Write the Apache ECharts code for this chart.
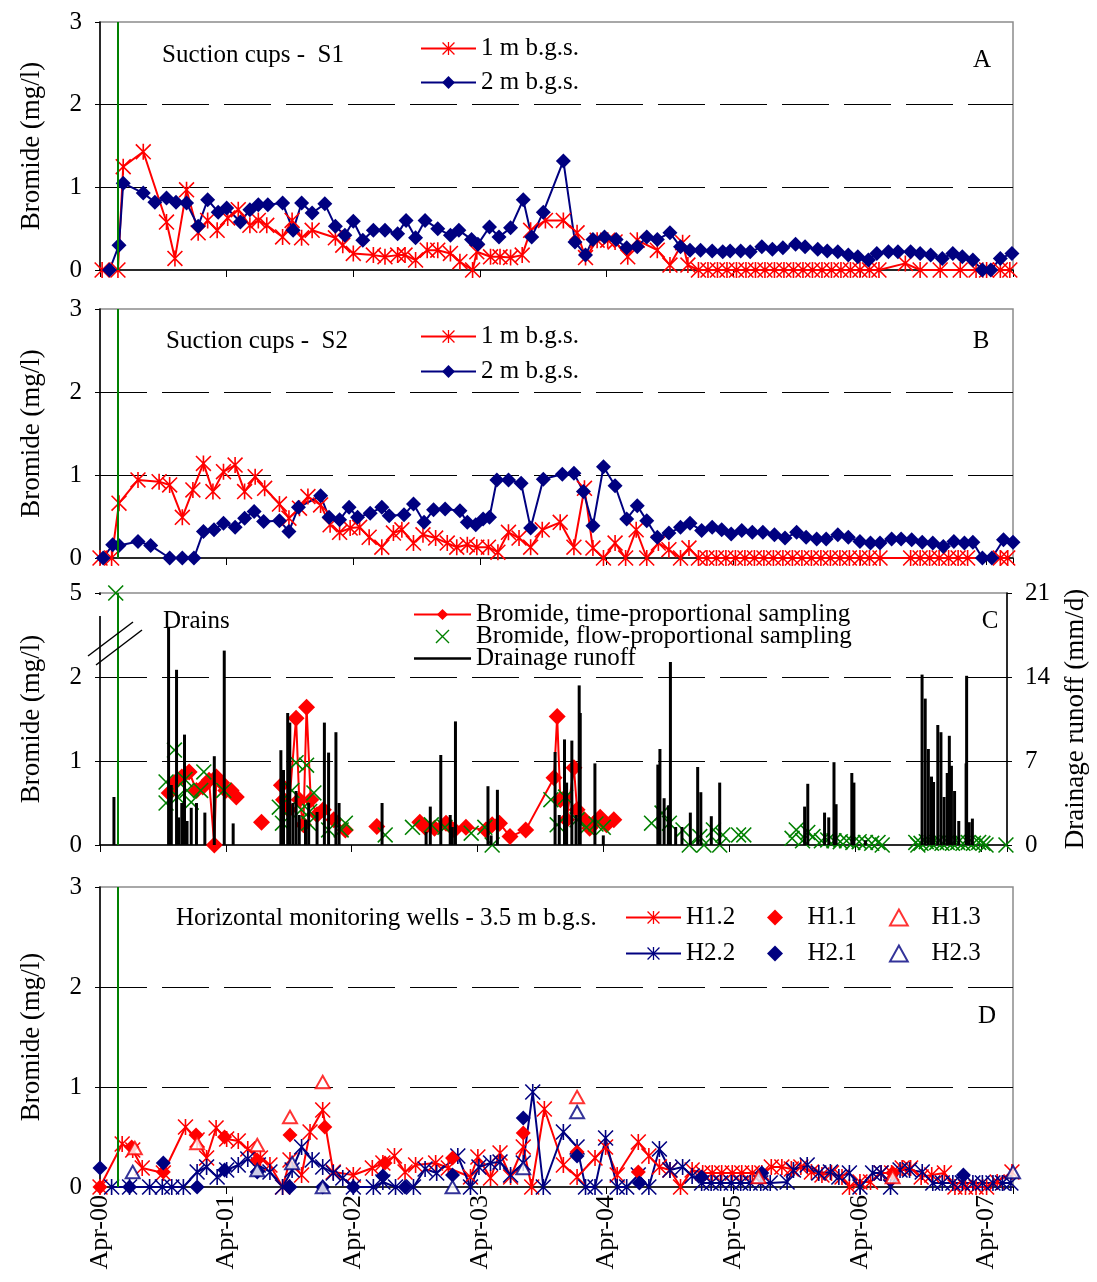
<!DOCTYPE html>
<html>
<head>
<meta charset="utf-8">
<script src="https://cdn.jsdelivr.net/npm/echarts@6/dist/echarts.min.js"></script>
<style>
  html, body { margin: 0; padding: 0; background: #fff; }
  #chart { width: 1097px; height: 1282px; }
</style>
</head>
<body>
<div id="chart"></div>
<script>
// x values are months since April 2000
var applicationMonth = 1.7;

// panel A - suction cups S1
var s1_1m = [[0.2,0],[1.7,0],[2.2,1.25],[4.1,1.43],[6.3,0.58],[7.1,0.14],[8.2,0.97],[9.3,0.45],[10.2,0.6],[11.1,0.48],[12.1,0.63],[13.1,0.73],[14.2,0.54],[15.0,0.6],[15.8,0.54],[17.3,0.4],[18.2,0.6],[19.1,0.39],[20.1,0.48],[22.3,0.39],[23.0,0.3],[24.0,0.2],[25.9,0.18],[27.0,0.16],[28.2,0.18],[28.9,0.18],[29.9,0.12],[31.0,0.24],[32.0,0.24],[33.2,0.2],[34.1,0.1],[35.3,0],[35.7,0.22],[37.0,0.16],[37.9,0.16],[38.9,0.15],[40.0,0.18],[40.8,0.48],[42.2,0.6],[43.9,0.6],[45.2,0.45],[46.0,0.15],[47.1,0.36],[48.1,0.36],[48.8,0.34],[50.0,0.16],[50.9,0.36],[52.8,0.24],[54.0,0.06],[55.2,0.33],[55.7,0.06],[56.7,0],[57.6,0],[58.5,0],[59.4,0],[60.3,0],[61.2,0],[62.1,0],[63.0,0],[63.9,0],[64.8,0],[65.7,0],[66.6,0],[67.5,0],[68.4,0],[69.3,0],[70.2,0],[71.1,0],[72.0,0],[72.9,0],[73.8,0],[76.3,0.08],[77.7,0],[79.6,0],[81.5,0],[83.0,0],[84.0,0],[85.3,0],[86.2,0]];
var s1_2m = [[0.9,0],[1.8,0.3],[2.2,1.05],[4.1,0.93],[5.2,0.82],[6.3,0.87],[7.2,0.82],[8.2,0.81],[9.3,0.53],[10.2,0.85],[11.2,0.7],[12.0,0.75],[13.3,0.58],[14.2,0.73],[15.0,0.79],[15.9,0.79],[17.3,0.81],[18.3,0.48],[19.1,0.81],[20.1,0.69],[21.3,0.8],[22.3,0.53],[23.2,0.42],[24.0,0.59],[24.9,0.36],[25.9,0.48],[27.0,0.48],[28.2,0.44],[29.0,0.6],[29.9,0.39],[30.8,0.6],[32.0,0.5],[33.2,0.42],[34.0,0.48],[35.2,0.37],[35.8,0.31],[36.9,0.52],[37.8,0.4],[38.9,0.51],[40.1,0.85],[40.9,0.4],[42.0,0.7],[43.9,1.32],[45.0,0.34],[46.0,0.18],[46.7,0.37],[47.8,0.4],[48.9,0.37],[49.9,0.27],[50.9,0.28],[51.8,0.4],[52.8,0.37],[54.0,0.45],[55.0,0.28],[55.9,0.24],[56.9,0.24],[58.0,0.23],[59.0,0.22],[59.7,0.23],[60.7,0.23],[61.6,0.22],[62.7,0.28],[63.7,0.25],[64.7,0.27],[65.9,0.31],[66.8,0.28],[68.0,0.25],[68.9,0.23],[69.9,0.22],[70.9,0.18],[71.8,0.16],[72.8,0.12],[73.6,0.2],[74.7,0.22],[75.6,0.22],[76.8,0.22],[77.7,0.2],[78.7,0.18],[79.8,0.14],[80.8,0.2],[81.7,0.16],[82.7,0.12],[83.6,0],[84.4,0],[85.3,0.14],[86.4,0.2]];

// panel B - suction cups S2
var s2_1m = [[0,0],[1.1,0],[1.8,0.66],[3.6,0.94],[5.6,0.92],[6.6,0.88],[7.8,0.49],[8.8,0.82],[9.8,1.14],[10.7,0.8],[11.7,1.04],[12.8,1.12],[13.7,0.8],[14.7,0.98],[15.6,0.84],[17.0,0.65],[17.9,0.48],[18.9,0.6],[19.7,0.74],[20.9,0.64],[21.8,0.4],[22.7,0.31],[23.7,0.36],[24.6,0.37],[25.5,0.25],[26.7,0.13],[27.8,0.3],[28.6,0.34],[29.7,0.18],[30.6,0.28],[31.8,0.24],[32.9,0.18],[33.8,0.13],[34.8,0.16],[35.7,0.13],[36.8,0.13],[37.7,0.07],[38.7,0.31],[39.7,0.24],[40.8,0.13],[41.9,0.34],[43.6,0.43],[44.9,0.13],[45.9,0.84],[46.7,0.12],[47.7,0],[48.8,0.18],[49.8,0],[50.8,0.34],[51.8,0],[52.9,0.18],[53.9,0.1],[55.0,0],[55.8,0.12],[56.7,0],[57.5,0],[58.4,0],[59.3,0],[60.2,0],[61.1,0],[62.0,0],[62.9,0],[63.8,0],[64.7,0],[65.6,0],[66.5,0],[67.4,0],[68.3,0],[69.2,0],[70.1,0],[71.0,0],[72.0,0],[72.9,0],[73.9,0],[76.8,0],[77.7,0],[78.6,0],[79.5,0],[80.4,0],[81.3,0],[82.2,0],[85.3,0],[86.0,0]];
var s2_2m = [[0.3,0],[1.2,0.16],[1.8,0.15],[3.6,0.2],[4.8,0.15],[6.6,0],[7.8,0],[8.9,0],[9.8,0.32],[10.8,0.34],[11.7,0.42],[12.8,0.37],[13.7,0.48],[14.6,0.56],[15.5,0.44],[17.0,0.45],[17.9,0.32],[18.8,0.61],[20.9,0.75],[21.7,0.49],[22.7,0.46],[23.6,0.61],[24.4,0.49],[25.6,0.54],[26.7,0.61],[27.4,0.51],[28.8,0.52],[29.7,0.65],[30.7,0.43],[31.6,0.58],[32.7,0.59],[34.1,0.57],[34.8,0.43],[35.6,0.4],[36.3,0.47],[36.9,0.49],[37.6,0.94],[38.7,0.94],[39.9,0.9],[40.8,0.36],[42.0,0.95],[43.8,1.01],[44.9,1.02],[45.8,0.8],[46.7,0.39],[47.7,1.1],[48.8,0.87],[49.9,0.47],[50.9,0.63],[51.8,0.45],[52.8,0.25],[53.9,0.3],[55.0,0.37],[55.9,0.42],[57.0,0.33],[58.0,0.37],[58.9,0.34],[59.8,0.29],[60.8,0.33],[61.8,0.31],[62.8,0.31],[63.9,0.28],[64.9,0.24],[66.0,0.31],[66.9,0.25],[67.9,0.23],[68.8,0.23],[69.9,0.28],[70.9,0.25],[72.0,0.2],[73.0,0.18],[73.9,0.18],[75.0,0.23],[75.9,0.23],[76.9,0.22],[77.9,0.19],[78.9,0.18],[79.9,0.14],[80.9,0.2],[81.9,0.18],[82.7,0.19],[83.6,0],[84.5,0],[85.6,0.22],[86.5,0.19]];

// panel C - drains (null = gap in the sampling line)
var timeProp = [[6.6,0.62],[7.1,0.74],[7.8,0.81],[8.5,0.87],[9.2,0.65],[9.8,0.69],[10.4,0.77],[10.9,0],[11.1,0.81],[11.6,0.74],[12.0,0.65],[12.5,0.65],[13.0,0.57],null,
  [15.4,0.27],null,
  [17.3,0.71],[17.5,0.54],[18.0,0.42],[18.7,1.51],[19.0,0.54],[19.4,0.24],[19.7,1.64],[20.1,0.54],[20.7,0.36],[21.3,0.42],[22.3,0.3],[23.4,0.18],null,
  [26.4,0.22],null,
  [30.5,0.27],[31.0,0.21],[31.9,0.2],[33.0,0.26],[33.8,0.18],[34.9,0.21],[36.8,0.18],[37.4,0.24],[38.1,0.26],[39.1,0.1],[40.6,0.18],[43.3,0.8],[43.6,1.53],[43.9,0.54],[44.3,0.56],[44.5,0.3],[45.2,0.92],[45.5,0.42],[46.2,0.3],[46.7,0.2],[47.2,0.27],[47.7,0.33],[48.3,0.24],[49.0,0.3]];
var flowProp = [[1.5,5],
  [6.3,0.75],[6.3,0.5],[7.1,1.13],[7.4,0.57],[8.1,0.78],[8.3,0.65],[8.7,0.51],[9.6,0.65],[9.9,0.87],[11.8,0.65],
  [17.1,0.45],[17.4,0.26],[18.3,0.65],[18.7,0.98],[19.2,0.42],[19.7,0.95],[19.9,0.26],[20.0,0.4],[20.4,0.62],[21.8,0.18],[23.0,0.18],[23.4,0.26],
  [27.2,0.12],[29.8,0.21],[31.6,0.24],[32.9,0.21],[35.4,0.14],[36.7,0.21],[37.4,0],
  [43.0,0.54],[43.6,0.24],[44.4,0.57],[45.5,0.3],[46.4,0.21],[47.3,0.25],[48.0,0.21],
  [52.6,0.26],[53.6,0.38],[54.3,0.26],[55.6,0.18],[56.2,0],[57.2,0.1],[57.6,0],[58.5,0.18],[59.1,0],[59.4,0.12],[60.9,0.12],[61.4,0.12],
  [66.0,0.08],[66.4,0.18],[67.0,0.05],[67.5,0.15],[68.0,0.1],[68.8,0.05],[69.4,0.06],[70.0,0.05],[70.6,0.04],[71.2,0.05],[71.8,0.03],[72.4,0.04],[73.0,0.03],[73.6,0.02],[74.2,0.03],[74.6,0],
  [77.8,0.03],[78.0,0],[78.3,0.02],[78.8,0.04],[79.3,0.02],[79.8,0.03],[80.3,0.02],[80.8,0.03],[81.3,0.02],[81.8,0.03],[82.3,0.02],[82.8,0.03],[83.3,0.02],[83.8,0.03],[84.2,0.02],[84.5,0],
  [86.4,0]];
// daily drainage runoff peaks, mm/d
var runoff = [[1.33,4.0],[6.54,18.1],[6.8,5.0],[7.3,14.6],[7.5,2.3],[7.8,3.5],[8.06,9.2],[8.3,2.0],[8.7,3.1],[9.2,3.5],[10.0,2.7],[10.9,7.4],[11.85,16.2],[12.7,1.8],
  [17.25,7.9],[17.5,6.25],[17.9,11.0],[18.1,10.2],[18.4,3.5],[18.7,4.5],[19.0,2.5],[19.6,2.1],[19.9,3.5],[20.7,2.75],[21.4,10.2],[21.8,7.7],[22.5,9.4],[22.8,3.5],
  [26.9,3.5],[31.1,1.1],[31.5,3.2],[32.5,7.5],[33.4,2.5],[33.6,1.5],[33.9,10.3],[37.0,4.9],[37.3,0.8],[37.9,4.6],
  [43.4,7.75],[43.8,2.5],[44.3,8.8],[44.5,5.2],[45.0,8.7],[45.4,2.5],[45.7,13.3],[45.8,11.0],[47.2,6.8],[48.0,0.8],
  [53.2,6.7],[53.4,8.0],[53.8,3.9],[54.2,3.3],[54.4,15.25],[54.9,1.5],[55.5,1.5],[56.3,2.7],[57.0,6.5],[57.3,4.4],[58.3,2.4],[59.1,5.2],
  [67.2,3.2],[67.5,5.1],[69.1,2.7],[69.5,2.3],[70.0,6.9],[70.2,3.4],[71.7,6.0],[71.9,5.2],[73.0,0.4],
  [78.4,14.2],[78.7,12.2],[79.0,8.0],[79.3,5.7],[79.5,5.25],[79.9,10.0],[80.2,9.4],[80.5,4.0],[80.8,6.0],[81.0,9.1],[81.2,6.6],[81.5,4.5],[81.9,2.0],[82.6,6.8],[82.65,14.1],[82.9,1.9],[83.2,2.2]];

// panel D - horizontal monitoring wells
var h12 = [[0,0],[2.1,0.43],[3.1,0.37],[4.0,0.19],[6.0,0.14],[8.1,0.6],[9.2,0.47],[10.1,0.29],[11.0,0.59],[12.0,0.48],[13.1,0.46],[14.0,0.38],[15.2,0.29],[16.1,0.22],[17.3,0],[18.0,0.27],[19.1,0.12],[19.9,0.55],[21.1,0.77],[22.1,0.15],[24.0,0.12],[25.8,0.19],[26.8,0.24],[27.9,0.31],[28.9,0.15],[29.9,0.22],[31.8,0.24],[33.0,0.19],[35.1,0.1],[35.8,0.3],[37.0,0.09],[37.9,0.34],[38.9,0.1],[40.1,0.4],[40.9,0],[42.1,0.78],[43.9,0.22],[45.2,0.1],[46.9,0.29],[47.9,0.4],[49.0,0.12],[51.0,0.45],[52.0,0.31],[53.0,0.2],[54.0,0.17],[55.0,0],[56.1,0.17],[57.1,0.14],[58.0,0.14],[58.9,0.14],[59.9,0.14],[60.8,0.14],[61.8,0.14],[62.7,0.14],[63.6,0.2],[64.6,0.2],[65.5,0.18],[66.4,0.2],[67.4,0.15],[68.4,0.12],[69.3,0.14],[70.3,0.1],[71.0,0],[72.0,0.05],[73.0,0.05],[74.0,0.14],[75.0,0.14],[76.0,0.19],[76.8,0.19],[77.8,0.1],[78.8,0.12],[80.0,0.14],[81.0,0],[82.0,0],[83.0,0],[84.0,0],[85.0,0.05],[86.4,0.15]];
var h11 = [[0,0],[3.0,0.4],[6.0,0.15],[9.1,0.52],[11.8,0.5],[14.9,0.27],[18.0,0.52],[21.3,0.6],[27.0,0.24],[33.4,0.29],[40.1,0.54],[45.2,0.35],[51.0,0.15],[75.1,0.14]];
var h13 = [[3.3,0.39],[9.2,0.44],[14.9,0.42],[18.0,0.7],[21.1,1.05],[45.2,0.9],[62.4,0.1],[75.1,0.1]];
var h22 = [[1.1,0],[2.8,0],[4.7,0],[5.9,0],[6.8,0],[7.9,0],[9.2,0.15],[10.1,0.2],[11.1,0.1],[12.0,0.17],[13.1,0.22],[14.0,0.28],[15.0,0.22],[16.1,0.15],[17.3,0],[18.2,0.17],[19.1,0.4],[20.1,0.27],[21.1,0.2],[22.1,0.14],[23.0,0.09],[24.0,0],[25.9,0],[26.8,0.05],[28.0,0],[29.7,0],[30.8,0.18],[31.9,0.14],[33.9,0.31],[35.1,0],[35.9,0.2],[37.0,0.24],[37.9,0.25],[38.9,0.12],[40.1,0.24],[41.0,0.95],[42.0,0],[43.9,0.55],[45.2,0.4],[46.0,0],[46.9,0],[47.9,0.49],[49.0,0],[49.9,0],[51.0,0.12],[52.0,0],[53.0,0.38],[54.0,0.17],[55.2,0.2],[56.1,0.11],[57.0,0.04],[57.9,0.04],[58.8,0.04],[59.8,0.04],[60.7,0.04],[61.6,0.04],[62.6,0.04],[63.5,0.04],[65.1,0.05],[65.7,0.17],[67.0,0.22],[68.1,0.14],[69.2,0.15],[70.0,0.1],[71.0,0.14],[72.0,0],[73.2,0.14],[74.0,0.14],[74.9,0],[75.8,0.17],[76.7,0.17],[77.9,0.15],[78.9,0.04],[79.8,0.04],[80.8,0.04],[81.7,0.04],[82.7,0.04],[83.6,0.04],[84.6,0.04],[85.5,0.04],[86.3,0.04]];
var h21 = [[0,0.19],[2.8,0],[6.0,0.24],[9.2,0],[11.8,0.17],[14.9,0.15],[18.0,0],[21.1,0],[24.0,0],[26.8,0.11],[28.9,0],[33.4,0.12],[40.1,0.69],[45.2,0.31],[51.1,0.04],[57.0,0.1],[62.7,0.14],[81.8,0.12]];
var h23 = [[3.1,0.15],[14.9,0.17],[18.2,0.24],[21.1,0],[33.4,0],[40.1,0.19],[45.2,0.75],[86.5,0.15]];

var yearTicks = ['Apr-00','Apr-01','Apr-02','Apr-03','Apr-04','Apr-05','Apr-06','Apr-07'];

var FONT = 'Liberation Serif';
var RED = '#ff0000', NAVY = '#000080', GREEN = '#008000';
var STAR = 'path://M45 0 L55 0 L55 100 L45 100 Z M0 7 L7 0 L100 93 L93 100 Z M93 0 L100 7 L7 100 L0 93 Z';
var CROSS = 'path://M0 7 L7 0 L100 93 L93 100 Z M93 0 L100 7 L7 100 L0 93 Z';
var DIAMOND = 'path://M50 0 L100 50 L50 100 L0 50 Z';
var TRIANGLE = 'path://M50 0 L100 90 L0 90 Z';
var LINE_ICON = 'path://M0 0 H100 V4 H0 Z';

var myChart = echarts.init(document.getElementById('chart'));

var grids = [
    {left: 100, top: 22, width: 913, height: 248},
    {left: 100, top: 309, width: 913, height: 249},
    {left: 100, top: 593, width: 913, height: 252},
    {left: 100, top: 887, width: 913, height: 300}
];
grids.forEach(function (g) {
    g.show = true;
    g.borderColor = '#8c8c8c';
    g.borderWidth = 1.5;
    g.backgroundColor = 'transparent';
});

function xAxis(idx, labels) {
    return {
        type: 'value', gridIndex: idx, min: 0, max: 86.5, interval: 12,
        axisLine: {show: true, onZero: false, lineStyle: {color: '#000', width: 1.5}},
        axisTick: {show: true, length: 7, lineStyle: {color: '#000'}},
        splitLine: {show: false},
        axisLabel: labels ? {
            rotate: 90, margin: 8, fontSize: 26, fontFamily: FONT, color: '#000',
            formatter: function (v) { return v % 12 === 0 ? yearTicks[v / 12] : ''; }
        } : {show: false}
    };
}

function yAxis(idx, extra) {
    var a = {
        type: 'value', gridIndex: idx, min: 0, max: 3, interval: 1,
        axisLine: {show: true, lineStyle: {color: '#000', width: 1.5}},
        axisTick: {show: true, length: 5, lineStyle: {color: '#000'}},
        axisLabel: {fontSize: 25, fontFamily: FONT, color: '#000', margin: 18},
        splitLine: {show: true, showMinLine: false, showMaxLine: false,
            lineStyle: {color: '#000', width: 1, type: [47, 15]}},
        name: 'Bromide (mg/l)', nameLocation: 'middle', nameGap: 55, nameRotate: 90,
        nameTextStyle: {fontSize: 27, fontFamily: FONT, color: '#000'}
    };
    return Object.assign(a, extra || {});
}

function appLine() {
    return {
        silent: true, symbol: 'none', label: {show: false},
        lineStyle: {color: GREEN, width: 2, type: 'solid'},
        data: [{xAxis: applicationMonth}]
    };
}

function lineS(name, data, color, symbol, size, idx, yIdx) {
    return {
        name: name, type: 'line', data: data,
        xAxisIndex: idx, yAxisIndex: yIdx === undefined ? idx : yIdx,
        symbol: symbol, symbolSize: size, showSymbol: true, showAllSymbol: true,
        itemStyle: {color: color, borderWidth: 0},
        lineStyle: {color: color, width: 2},
        z: 3
    };
}

function scatterS(name, data, color, symbol, size, idx, yIdx, hollow) {
    return {
        name: name, type: 'scatter', data: data,
        xAxisIndex: idx, yAxisIndex: yIdx === undefined ? idx : yIdx,
        symbol: symbol, symbolSize: size, symbolKeepAspect: true,
        itemStyle: hollow ? {color: '#fff', borderColor: color, borderWidth: 2} : {color: color, opacity: 1},
        z: 3
    };
}

// split the time-proportional series at the gaps
var timeSegments = [];
var seg = [];
timeProp.forEach(function (p) {
    if (p === null) { timeSegments.push(seg); seg = []; } else { seg.push(p); }
});
timeSegments.push(seg);

// broken left axis in panel C: values above the break are drawn at the "5" tick
var flowShown = flowProp.map(function (p) { return [p[0], p[1] > 2.5 ? 3 : p[1]]; });

var series = [];

var sA1 = lineS('1 m b.g.s.', s1_1m, RED, STAR, 16, 0);
sA1.markLine = appLine();
series.push(sA1);
series.push(lineS('2 m b.g.s.', s1_2m, NAVY, 'diamond', 15, 0));

var sB1 = lineS('1 m b.g.s.', s2_1m, RED, STAR, 16, 1);
sB1.markLine = appLine();
series.push(sB1);
series.push(lineS('2 m b.g.s.', s2_2m, NAVY, 'diamond', 15, 1));

timeSegments.forEach(function (s, i) {
    var ts = lineS('Bromide, time-proportional sampling', s, RED, 'diamond', 17, 2, 2);
    if (i === 0) ts.markLine = appLine();
    series.push(ts);
});
series.push(scatterS('Bromide, flow-proportional sampling', flowShown, GREEN, CROSS, 16, 2, 2));
series.push({
    name: 'Drainage runoff', type: 'bar', data: runoff, xAxisIndex: 2, yAxisIndex: 3,
    barWidth: 3, itemStyle: {color: '#000'}, z: 4
});

var sD = lineS('H1.2', h12, RED, STAR, 16, 3, 4);
sD.markLine = appLine();
series.push(sD);
series.push(lineS('H2.2', h22, NAVY, STAR, 16, 3, 4));
series.push(scatterS('H1.1', h11, RED, DIAMOND, 15, 3, 4));
series.push(scatterS('H2.1', h21, NAVY, DIAMOND, 15, 3, 4));
series.push(scatterS('H1.3', h13, RED, TRIANGLE, 14, 3, 4, true));
series.push(scatterS('H2.3', h23, NAVY, TRIANGLE, 14, 3, 4, true));

var legendText = {fontSize: 25, fontFamily: FONT, color: '#000'};
function legend(names, left, top, gap, w) {
    return {
        data: names, orient: 'vertical', left: left, top: top, itemGap: gap,
        itemWidth: w || 55, itemHeight: 16, selectedMode: false, symbolKeepAspect: true,
        textStyle: legendText, padding: 0
    };
}

function label(text, x, y, align) {
    return {
        type: 'text', x: x, y: y, silent: true,
        style: {text: text, font: '25px "' + FONT + '"', fill: '#000',
            textAlign: align || 'left', textVerticalAlign: 'middle'}
    };
}

var option = {
    animation: false,
    backgroundColor: '#fff',
    grid: grids,
    xAxis: [xAxis(0, false), xAxis(1, false), xAxis(2, false), xAxis(3, true)],
    yAxis: [
        yAxis(0),
        yAxis(1),
        yAxis(2, {axisLabel: {fontSize: 25, fontFamily: FONT, color: '#000', margin: 18,
            formatter: function (v) { return v === 3 ? '5' : String(v); }}}),
        {
            type: 'value', gridIndex: 2, position: 'right', min: 0, max: 21, interval: 7,
            axisLine: {show: true, lineStyle: {color: '#000', width: 1.5}},
            axisTick: {show: true, length: 5, lineStyle: {color: '#000'}},
            axisLabel: {fontSize: 25, fontFamily: FONT, color: '#000', margin: 18},
            splitLine: {show: false},
            name: 'Drainage runoff (mm/d)', nameLocation: 'middle', nameGap: 55, nameRotate: 90,
            nameTextStyle: {fontSize: 27, fontFamily: FONT, color: '#000'}
        },
        yAxis(3)
    ],
    legend: [
        legend(['1 m b.g.s.', '2 m b.g.s.'], 420, 36, 9),
        legend(['1 m b.g.s.', '2 m b.g.s.'], 420, 324, 10),
        Object.assign(legend(['Bromide, time-proportional sampling', 'Bromide, flow-proportional sampling',
            {name: 'Drainage runoff', icon: LINE_ICON}], 413, 602, -3, 57), {itemHeight: 14}),
        legend(['H1.2', 'H2.2'], 625, 905, 11),
        legend(['H1.1', 'H2.1'], 767, 905, 11),
        legend(['H1.3', 'H2.3'], 889, 905, 11)
    ],
    graphic: [
        label('Suction cups -  S1', 162, 55),
        label('A', 982, 60, 'center'),
        label('Suction cups -  S2', 166, 341),
        label('B', 981, 341, 'center'),
        label('Drains', 163, 621),
        label('C', 990, 621, 'center'),
        label('Horizontal monitoring wells - 3.5 m b.g.s.', 176, 918),
        label('D', 987, 1016, 'center'),
        {type: 'rect', shape: {x: 96, y: 595, width: 8, height: 21}, style: {fill: '#fff'}, z: 100},
        {type: 'line', shape: {x1: 88, y1: 656, x2: 133, y2: 622}, style: {stroke: '#000', lineWidth: 1.5}, z: 101},
        {type: 'line', shape: {x1: 96, y1: 665, x2: 142, y2: 630}, style: {stroke: '#000', lineWidth: 1.5}, z: 101}
    ],
    series: series
};

myChart.setOption(option);
</script>
</body>
</html>
